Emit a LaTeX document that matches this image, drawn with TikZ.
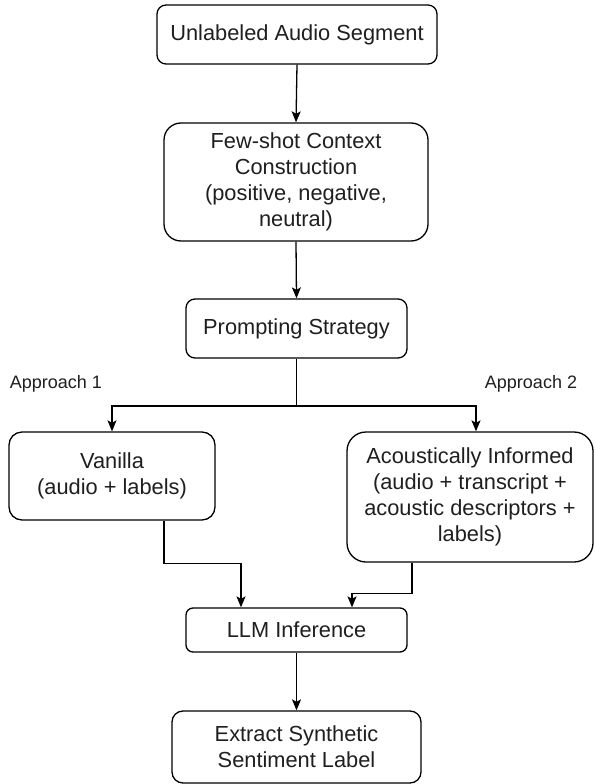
\documentclass[tikz,border=0pt]{standalone}
\usepackage{fontspec}
\setmainfont{Liberation Sans}
\usetikzlibrary{arrows.meta}
\begin{document}
\begin{tikzpicture}[x=1pt,y=-1pt,
  box/.style={draw=black, line width=1.3pt, fill=white, align=center, inner sep=0pt,
    text=black!88, font=\fontsize{21.8}{26.2}\selectfont},
  arr/.style={draw=black, line width=1.3pt, -{Stealth[length=11pt,width=9pt,inset=2.5pt]}},
  lbl/.style={text=black!88, font=\fontsize{18}{21.6}\selectfont, inner sep=0pt, anchor=base}
]
\useasboundingbox (0,0) rectangle (595,784);
\fill[white] (0,0) rectangle (595,784);

\node[box, rounded corners=9pt, minimum width=280pt, minimum height=59pt] (b1) at (297,34.5) {Unlabeled Audio Segment};
\node[box, rounded corners=17pt, minimum width=264pt, minimum height=118pt] (b2) at (296,182) {Few-shot Context\\Construction\\(positive, negative,\\neutral)};
\node[box, rounded corners=9pt, minimum width=221pt, minimum height=59pt] (b3) at (296.5,328.5) {Prompting Strategy};
\node[box, rounded corners=13pt, minimum width=206pt, minimum height=88pt] (van) at (112,476) {Vanilla\\(audio + labels)};
\node[box, rounded corners=19pt, minimum width=246pt, minimum height=130pt] (aco) at (470,497) {Acoustically Informed\\(audio + transcript +\\acoustic descriptors +\\labels)};
\node[box, rounded corners=7pt, minimum width=221pt, minimum height=44pt] (llm) at (296.5,630) {LLM Inference};
\node[box, rounded corners=11pt, minimum width=249pt, minimum height=72pt] (ext) at (296.5,747) {Extract Synthetic\\Sentiment Label};

\node[lbl] (a1) at (56,388) {Approach 1};
\node[lbl] (a2) at (531,388) {Approach 2};

\coordinate (split) at (296.5,406);

\draw[arr] (b1.south) -- (b2.north);
\draw[arr] (b2.south) -- (b3.north);
\draw[line width=1.3pt] (b3.south) -- (split);
\draw[arr] (split) -| (van.north);
\draw[arr] (split) -| ([xshift=6pt]aco.north);
\draw[arr] ([xshift=52pt]van.south) -- ++(0,43) -| ([xshift=-55.5pt]llm.north);
\draw[arr] ([xshift=-58pt]aco.south) -- ++(0,31) -| ([xshift=55.5pt]llm.north);
\draw[arr] (llm.south) -- (ext.north);
\end{tikzpicture}
\end{document}
